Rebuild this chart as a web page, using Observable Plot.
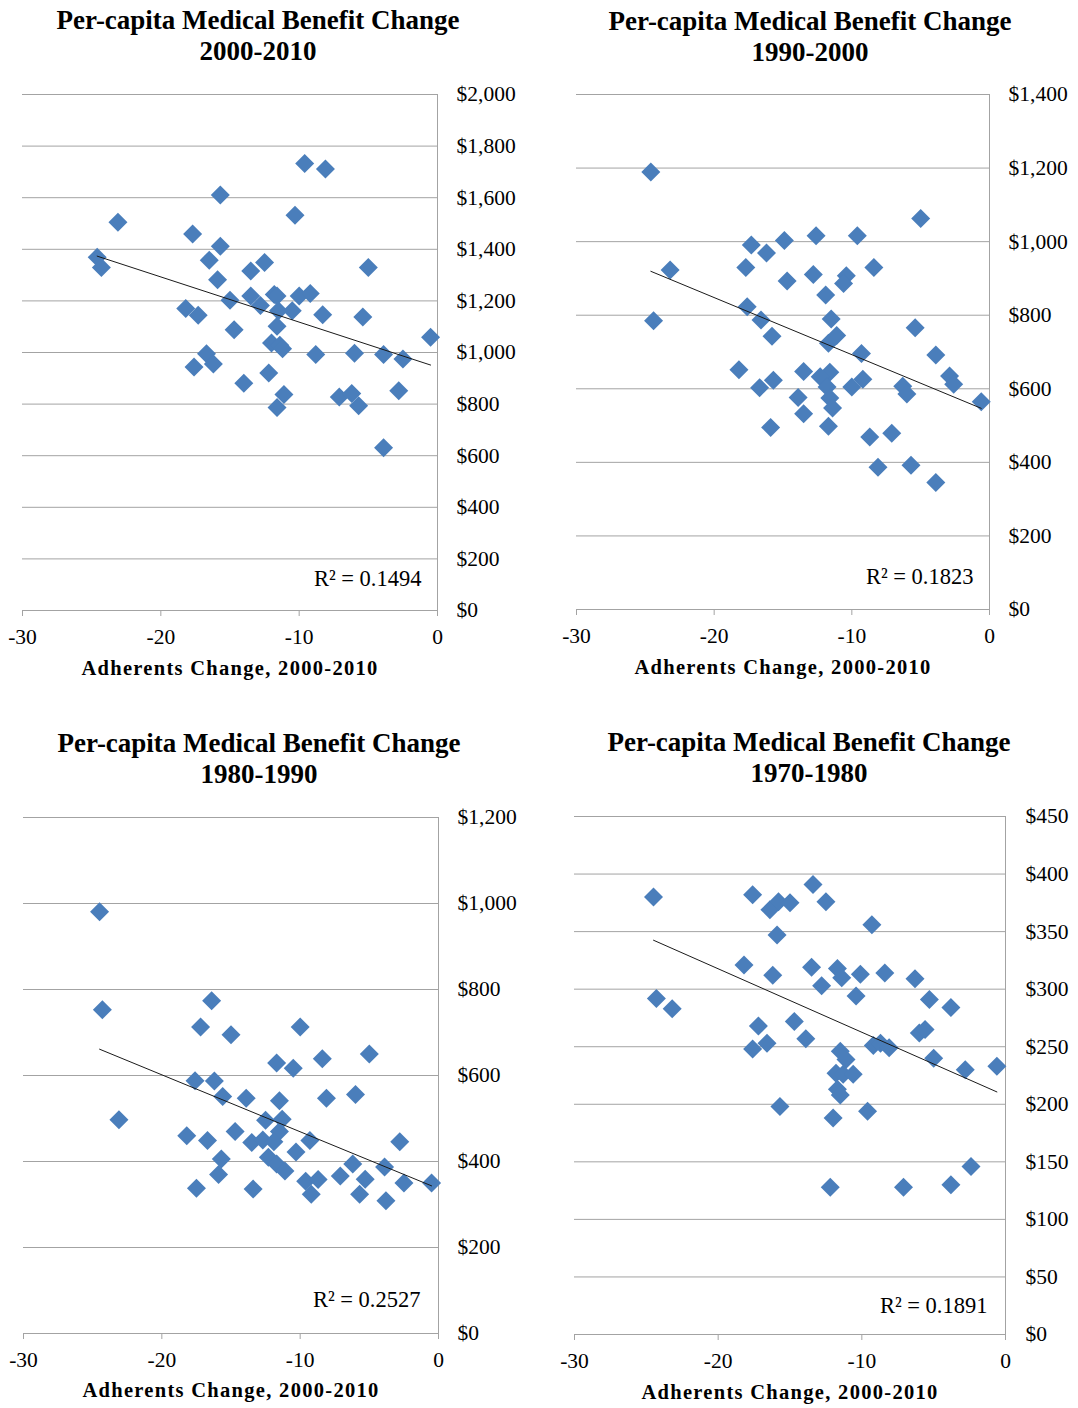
<!DOCTYPE html>
<html>
<head>
<meta charset="utf-8">
<script src="https://cdn.jsdelivr.net/npm/d3@7"></script>
<script src="https://cdn.jsdelivr.net/npm/@observablehq/plot@0.6"></script>
<style>
  body { margin: 0; background: #fff; }
  #root { position: relative; width: 1078px; height: 1408px; background: #fff; overflow: hidden; }
  .title { position: absolute; width: 560px; text-align: center; font-family: "Liberation Serif", "Times New Roman", serif;
           font-weight: bold; font-size: 27px; line-height: 31px; color: #000; }
  .panel { position: absolute; }
</style>
</head>
<body>
<div id="root"></div>
<script>
// ---------- shared ----------
const xTicks = [-30, -20, -10, 0];
const xAxisTitle = "Adherents Change, 2000-2010";
const titleLine1 = "Per-capita Medical Benefit Change";

// ---------- panel 1: 2000-2010 ----------
const period1 = "2000-2010";
const r2Label1 = "R² = 0.1494";
const yTicks1 = [0, 200, 400, 600, 800, 1000, 1200, 1400, 1600, 1800, 2000];
const x1 = [-24.6,-24.3,-23.1,-15.7,-9.6,-8.1,-10.3,-17.7,-15.7,-16.5,-12.5,-13.5,-5.0,-15.9,-15.0,-13.5,-11.8,-11.6,-12.8,-10.0,-9.2,-18.2,-17.3,-11.5,-10.5,-8.3,-5.4,-11.6,-14.7,-12.0,-11.4,-11.2,-0.5,-16.7,-16.2,-17.6,-8.8,-6.0,-3.9,-2.5,-12.2,-14.0,-11.1,-11.6,-7.1,-6.2,-5.7,-2.8,-3.9];
const y1 = [1369,1329,1505,1610,1733,1711,1532,1459,1412,1358,1349,1316,1329,1282,1203,1219,1225,1219,1182,1219,1229,1171,1144,1162,1162,1146,1138,1102,1088,1037,1028,1015,1059,995,955,944,992,997,992,975,921,881,837,787,828,841,794,852,631];

// ---------- panel 2: 1990-2000 ----------
const period2 = "1990-2000";
const r2Label2 = "R² = 0.1823";
const yTicks2 = [0, 200, 400, 600, 800, 1000, 1200, 1400];
const x2 = [-24.6,-23.2,-24.4,-17.3,-16.2,-14.9,-12.6,-9.6,-5.0,-17.7,-14.7,-12.8,-10.4,-10.6,-8.4,-11.9,-17.6,-16.6,-11.5,-15.8,-11.1,-11.7,-5.4,-9.3,-3.9,-18.2,-13.5,-11.6,-12.3,-9.2,-15.7,-16.7,-11.8,-10.0,-6.3,-2.9,-2.6,-6.0,-13.9,-11.6,-11.4,-13.5,-0.6,-15.9,-11.7,-8.7,-7.1,-8.1,-5.7,-3.9];
const y2 = [1189,923,785,991,969,1003,1016,1016,1063,930,893,911,907,886,930,855,823,787,790,743,745,724,766,696,692,652,647,645,633,626,623,603,605,605,607,635,612,586,576,575,548,532,565,495,498,469,479,387,392,345];

// ---------- panel 3: 1980-1990 ----------
const period3 = "1980-1990";
const r2Label3 = "R² = 0.2527";
const yTicks3 = [0, 200, 400, 600, 800, 1000, 1200];
const x3 = [-24.5,-24.3,-23.1,-16.4,-17.2,-15.0,-10.0,-11.7,-10.5,-8.4,-5.0,-17.6,-16.2,-15.6,-13.9,-11.5,-8.1,-6.0,-12.5,-11.3,-11.5,-14.7,-18.2,-16.7,-13.5,-12.7,-11.9,-9.3,-2.8,-10.3,-15.7,-12.3,-11.7,-11.1,-6.2,-3.9,-15.9,-9.6,-8.7,-7.1,-5.3,-2.5,-0.5,-17.5,-13.4,-9.2,-5.7,-3.8];
const y3 = [981,753,497,774,713,695,713,629,617,639,650,588,587,551,547,541,547,556,496,498,470,470,460,449,444,450,446,449,446,422,406,410,394,378,394,387,370,354,358,366,359,350,350,338,336,324,324,309];

// ---------- panel 4: 1970-1980 ----------
const period4 = "1970-1980";
const r2Label4 = "R² = 0.1891";
const yTicks4 = [0, 50, 100, 150, 200, 250, 300, 350, 400, 450];
const x4 = [-24.5,-24.3,-23.2,-17.6,-16.4,-15.8,-15.0,-13.4,-12.5,-15.9,-9.3,-18.2,-16.2,-13.5,-11.7,-11.4,-10.1,-8.4,-6.3,-12.8,-10.4,-5.3,-3.8,-17.2,-14.7,-17.6,-16.6,-13.9,-6.0,-5.6,-9.2,-8.7,-8.1,-11.5,-11.1,-5.0,-2.8,-0.6,-11.8,-11.3,-10.6,-11.7,-11.5,-15.7,-9.6,-12.0,-12.2,-7.1,-3.8,-2.4];
const y4 = [380,292,283,382,369,376,375,391,376,347,356,321,312,319,318,310,313,314,309,303,294,291,284,268,272,248,253,257,262,265,251,253,249,246,239,240,230,233,227,226,226,213,208,198,194,188,128,128,130,146];

// ---------- drawing ----------
const GRID = "#a3a3a3";
const BLUE = "#4a7ebb";
const FONT = "'Liberation Serif', 'Times New Roman', serif";
const fmtDollar = d => "$" + d3.format(",")(d);

const diamond = {
  draw(context, size) {
    const h = Math.sqrt(size / Math.PI);
    context.moveTo(0, -h);
    context.lineTo(h, 0);
    context.lineTo(0, h);
    context.lineTo(-h, 0);
    context.closePath();
  }
};

const root = document.getElementById("root");

function addTitle(period, centerX, top) {
  const div = document.createElement("div");
  div.className = "title";
  div.style.left = (centerX - 280) + "px";
  div.style.top = top + "px";
  div.innerHTML = titleLine1 + "<br>" + period;
  root.appendChild(div);
}

function panel(cfg) {
  const data = cfg.xs.map((x, i) => ({x, y: cfg.ys[i]}));
  const yMax = cfg.yTicks[cfg.yTicks.length - 1];
  const svg = Plot.plot({
    width: cfg.width,
    height: cfg.height,
    marginLeft: cfg.ml,
    marginRight: cfg.mr,
    marginTop: cfg.mt,
    marginBottom: cfg.mb,
    style: {fontFamily: FONT, fontSize: "21.5px", color: "#000", background: "transparent", overflow: "visible"},
    x: {domain: [-30, 0]},
    y: {domain: [0, yMax]},
    marks: [
      Plot.gridY({ticks: cfg.yTicks, stroke: GRID, strokeOpacity: 1, strokeWidth: 1}),
      Plot.ruleX([0], {stroke: GRID, strokeWidth: 1}),
      Plot.axisX({ticks: xTicks, tickSize: 6, tickPadding: 12, stroke: GRID, fill: "#000",
                  tickFormat: d => String(d), label: null}),
      Plot.axisY({anchor: "right", ticks: cfg.yTicks, tickSize: 0, tickPadding: cfg.yPad,
                  textAnchor: "start", fill: "#000", tickFormat: fmtDollar, label: null}),
      Plot.dot(data, {x: "x", y: "y", symbol: diamond, r: 9.5, fill: BLUE, stroke: "none"}),
      Plot.linearRegressionY(data, {x: "x", y: "y", ci: 0, stroke: "#1a1a1a", strokeWidth: 1}),
      Plot.text([cfg.r2], {text: d => d, frameAnchor: "bottom-right", dx: cfg.r2dx, dy: cfg.r2dy,
                           textAnchor: "end", fontSize: 22.5, fill: "#000"}),
      Plot.text([xAxisTitle], {text: d => d, frameAnchor: "bottom", dy: cfg.labDy,
                               fontWeight: "bold", fontSize: 20.5, fill: "#000"})
    ]
  });
  d3.select(svg).selectAll("text")
    .filter(function() { return this.textContent === xAxisTitle; })
    .attr("letter-spacing", "1.3px");
  const wrap = document.createElement("div");
  wrap.className = "panel";
  wrap.style.left = cfg.left + "px";
  wrap.style.top = cfg.top + "px";
  wrap.appendChild(svg);
  root.appendChild(wrap);
}

addTitle(period1, 258, 5);
addTitle(period2, 810, 6);
addTitle(period3, 259, 728);
addTitle(period4, 809, 727);

panel({xs: x1, ys: y1, yTicks: yTicks1, r2: r2Label1,
       left: 0, top: 80, width: 540, height: 620, ml: 22, mr: 103, mt: 14, mb: 90,
       yPad: 19, r2dx: -16, r2dy: -25, labDy: 64});
panel({xs: x2, ys: y2, yTicks: yTicks2, r2: r2Label2,
       left: 540, top: 80, width: 538, height: 620, ml: 36, mr: 89, mt: 14, mb: 91,
       yPad: 19, r2dx: -16, r2dy: -26, labDy: 64});
panel({xs: x3, ys: y3, yTicks: yTicks3, r2: r2Label3,
       left: 0, top: 800, width: 540, height: 608, ml: 23, mr: 102, mt: 17, mb: 75,
       yPad: 19, r2dx: -18, r2dy: -27, labDy: 63});
panel({xs: x4, ys: y4, yTicks: yTicks4, r2: r2Label4,
       left: 540, top: 800, width: 538, height: 608, ml: 34, mr: 73, mt: 16, mb: 74,
       yPad: 20, r2dx: -18, r2dy: -22, labDy: 64});
</script>
</body>
</html>
